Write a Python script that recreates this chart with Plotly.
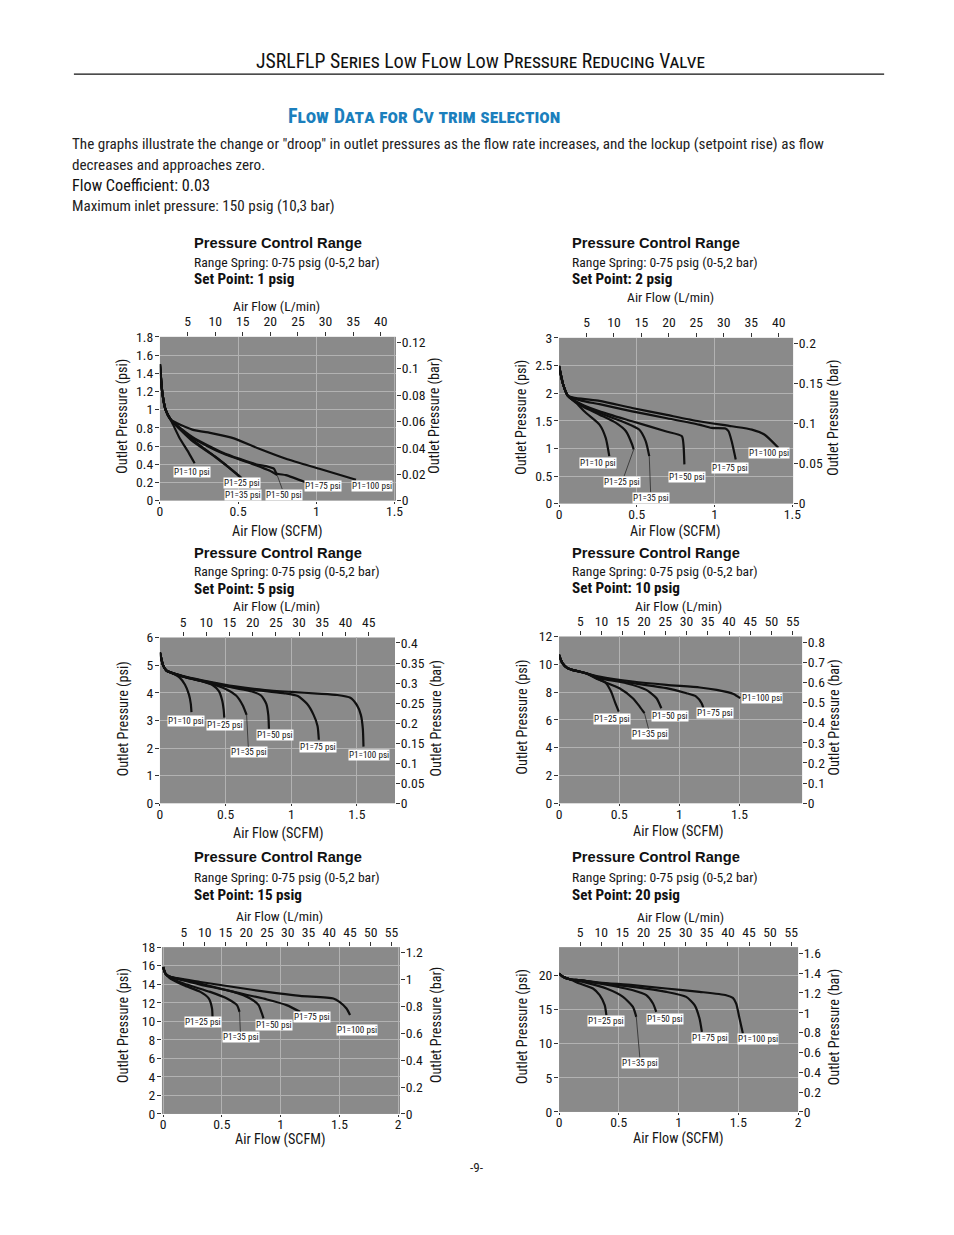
import plotly.graph_objects as go

# ---------------- data ----------------
PSI_TO_BAR = 0.0689476
SCFM_TO_LPM = 28.3168

SERIES = ["P1=10 psi", "P1=25 psi", "P1=35 psi", "P1=50 psi", "P1=75 psi", "P1=100 psi"]
SET_POINTS = ["1 psig", "2 psig", "5 psig", "10 psig", "15 psig", "20 psig"]

# Set point 1 psig : (SCFM, psi)
SP1 = {
    "P1=10 psi": ([0, 0.015, 0.036, 0.069, 0.122, 0.186, 0.222],
                  [1.5, 1.19, 1.0, 0.89, 0.70, 0.52, 0.41]),
    "P1=25 psi": ([0, 0.015, 0.036, 0.069, 0.207, 0.357, 0.485, 0.524],
                  [1.5, 1.19, 1.0, 0.89, 0.67, 0.48, 0.30, 0.24]),
    "P1=35 psi": ([0, 0.015, 0.036, 0.069, 0.2, 0.35, 0.48, 0.52],
                  [1.5, 1.19, 1.0, 0.89, 0.665, 0.485, 0.31, 0.25]),
    "P1=50 psi": ([0, 0.015, 0.036, 0.069, 0.207, 0.4, 0.613, 0.7, 0.75],
                  [1.5, 1.19, 1.0, 0.89, 0.69, 0.52, 0.39, 0.33, 0.28]),
    "P1=75 psi": ([0, 0.015, 0.036, 0.069, 0.207, 0.4, 0.613, 0.678, 0.73, 0.745, 0.806, 0.934],
                  [1.5, 1.19, 1.0, 0.89, 0.70, 0.53, 0.40, 0.38, 0.35, 0.30, 0.28, 0.20]),
    "P1=100 psi": ([0, 0.015, 0.036, 0.069, 0.207, 0.335, 0.463, 0.635, 0.806, 1.02, 1.254],
                   [1.5, 1.19, 1.0, 0.89, 0.78, 0.74, 0.69, 0.57, 0.46, 0.35, 0.23]),
}
# Set point 2 psig
SP2 = {
    "P1=10 psi": ([0, 0.026, 0.057, 0.11, 0.174, 0.26, 0.30, 0.323],
                  [2.49, 2.16, 1.95, 1.82, 1.64, 1.43, 1.19, 0.86]),
    "P1=25 psi": ([0, 0.026, 0.057, 0.15, 0.26, 0.366, 0.43, 0.47, 0.48],
                  [2.49, 2.16, 1.95, 1.76, 1.61, 1.46, 1.31, 1.07, 0.98]),
    "P1=35 psi": ([0, 0.026, 0.057, 0.15, 0.26, 0.43, 0.515, 0.557, 0.58],
                  [2.49, 2.16, 1.95, 1.78, 1.64, 1.46, 1.34, 1.13, 0.86]),
    "P1=50 psi": ([0, 0.026, 0.057, 0.15, 0.26, 0.47, 0.685, 0.79, 0.80, 0.806],
                  [2.49, 2.16, 1.95, 1.79, 1.67, 1.49, 1.31, 1.22, 1.07, 0.71]),
    "P1=75 psi": ([0, 0.026, 0.057, 0.15, 0.26, 0.47, 0.685, 0.9, 0.98, 1.07, 1.09, 1.11, 1.136],
                  [2.49, 2.16, 1.95, 1.86, 1.80, 1.67, 1.55, 1.43, 1.37, 1.36, 1.31, 1.13, 0.80]),
    "P1=100 psi": ([0, 0.026, 0.057, 0.26, 0.47, 0.685, 0.9, 1.11, 1.24, 1.32, 1.41],
                   [2.49, 2.16, 1.95, 1.86, 1.73, 1.61, 1.49, 1.40, 1.34, 1.25, 1.01]),
}
# Set point 5 psig
SP5 = {
    "P1=10 psi": ([0, 0.025, 0.05, 0.09, 0.15, 0.19, 0.22, 0.235, 0.24],
                  [5.46, 4.98, 4.8, 4.72, 4.55, 4.3, 3.95, 3.6, 3.3]),
    "P1=25 psi": ([0, 0.025, 0.05, 0.09, 0.2, 0.32, 0.4, 0.45, 0.475, 0.485, 0.49],
                  [5.46, 4.98, 4.8, 4.72, 4.56, 4.42, 4.28, 4.05, 3.7, 3.4, 3.1]),
    "P1=35 psi": ([0, 0.025, 0.05, 0.09, 0.2, 0.38, 0.5, 0.58, 0.63, 0.66],
                  [5.46, 4.98, 4.8, 4.72, 4.55, 4.34, 4.14, 3.9, 3.55, 3.2]),
    "P1=50 psi": ([0, 0.025, 0.05, 0.09, 0.2, 0.38, 0.56, 0.7, 0.77, 0.81, 0.825, 0.83],
                  [5.46, 4.98, 4.8, 4.72, 4.55, 4.36, 4.18, 4.05, 3.9, 3.6, 3.2, 2.7]),
    "P1=75 psi": ([0, 0.025, 0.05, 0.09, 0.2, 0.38, 0.56, 0.8, 0.95, 1.05, 1.12, 1.17, 1.2, 1.21],
                  [5.46, 4.98, 4.8, 4.72, 4.56, 4.38, 4.2, 4.06, 3.98, 3.88, 3.6, 3.2, 2.8, 2.3]),
    "P1=100 psi": ([0, 0.025, 0.05, 0.09, 0.2, 0.38, 0.56, 0.8, 1.0, 1.2, 1.35, 1.45, 1.5, 1.53, 1.545, 1.55],
                   [5.46, 4.98, 4.8, 4.72, 4.58, 4.4, 4.24, 4.1, 4.03, 3.97, 3.92, 3.82, 3.55, 3.2, 2.7, 2.05]),
}
# Set point 10 psig
SP10 = {
    "P1=25 psi": ([0, 0.028, 0.07, 0.11, 0.223, 0.307, 0.39, 0.432, 0.468, 0.496],
                  [10.68, 10.08, 9.72, 9.6, 9.36, 9.0, 8.64, 8.04, 7.2, 6.6]),
    "P1=35 psi": ([0, 0.028, 0.07, 0.11, 0.223, 0.335, 0.502, 0.613, 0.67, 0.71],
                  [10.68, 10.08, 9.72, 9.6, 9.36, 8.88, 8.28, 7.56, 6.96, 6.48]),
    "P1=50 psi": ([0, 0.028, 0.07, 0.11, 0.223, 0.335, 0.558, 0.725, 0.81, 0.85],
                  [10.68, 10.08, 9.72, 9.6, 9.36, 9.0, 8.64, 8.16, 7.56, 6.84]),
    "P1=75 psi": ([0, 0.028, 0.07, 0.11, 0.223, 0.335, 0.613, 0.892, 1.06, 1.14, 1.185, 1.2],
                  [10.68, 10.08, 9.72, 9.6, 9.36, 9.07, 8.64, 8.28, 7.92, 7.68, 7.2, 6.84]),
    "P1=100 psi": ([0, 0.028, 0.07, 0.11, 0.223, 0.335, 0.613, 0.892, 1.17, 1.31, 1.45, 1.505],
                   [10.68, 10.08, 9.72, 9.6, 9.36, 9.12, 8.76, 8.52, 8.33, 8.16, 7.87, 7.56]),
}
# Set point 15 psig
SP15 = {
    "P1=25 psi": ([0, 0.02, 0.048, 0.062, 0.175, 0.317, 0.388, 0.416, 0.42],
                  [15.86, 15.14, 14.78, 14.6, 13.89, 13.17, 12.46, 11.38, 10.49]),
    "P1=35 psi": ([0, 0.02, 0.048, 0.175, 0.4, 0.543, 0.628, 0.65],
                  [15.86, 15.14, 14.78, 14.07, 13.17, 12.46, 11.74, 11.02]),
    "P1=50 psi": ([0, 0.02, 0.048, 0.317, 0.6, 0.741, 0.812, 0.84, 0.854],
                  [15.86, 15.14, 14.85, 13.96, 13.17, 12.46, 11.74, 10.84, 10.31]),
    "P1=75 psi": ([0, 0.02, 0.048, 0.317, 0.6, 0.883, 1.05, 1.165],
                  [15.86, 15.14, 14.85, 14.07, 13.17, 12.35, 11.74, 11.02]),
    "P1=100 psi": ([0, 0.02, 0.048, 0.317, 0.6, 0.883, 1.165, 1.448, 1.5, 1.56, 1.59],
                   [15.86, 15.14, 14.85, 14.24, 13.7, 13.17, 12.74, 12.46, 12.1, 11.38, 10.67]),
}
# Set point 20 psig
SP20 = {
    "P1=25 psi": ([0, 0.033, 0.089, 0.173, 0.284, 0.34, 0.382, 0.396],
                  [20.24, 19.76, 19.41, 18.78, 18.05, 17.07, 15.61, 14.15]),
    "P1=35 psi": ([0, 0.033, 0.089, 0.2, 0.396, 0.535, 0.618, 0.646],
                  [20.24, 19.76, 19.41, 19.02, 18.05, 16.83, 15.37, 13.9]),
    "P1=50 psi": ([0, 0.033, 0.089, 0.173, 0.34, 0.618, 0.73, 0.786, 0.813],
                  [20.24, 19.76, 19.41, 19.27, 18.78, 17.8, 17.07, 15.85, 14.63]),
    "P1=75 psi": ([0, 0.033, 0.089, 0.173, 0.34, 0.618, 0.897, 1.064, 1.134, 1.175, 1.195],
                  [20.24, 19.76, 19.41, 19.27, 18.83, 18.29, 17.56, 16.83, 15.61, 13.66, 11.71]),
    "P1=100 psi": ([0, 0.033, 0.089, 0.173, 0.34, 0.618, 0.897, 1.175, 1.398, 1.454, 1.482, 1.51, 1.538],
                   [20.24, 19.76, 19.41, 19.27, 18.93, 18.54, 18.05, 17.56, 17.07, 16.68, 15.85, 13.66, 11.46]),
}
CURVES = [SP1, SP2, SP5, SP10, SP15, SP20]

# tick labels
PSI_TICKS = [
    [0, 0.2, 0.4, 0.6, 0.8, 1, 1.2, 1.4, 1.6, 1.8],
    [0, 0.5, 1, 1.5, 2, 2.5, 3],
    [0, 1, 2, 3, 4, 5, 6],
    [0, 2, 4, 6, 8, 10, 12],
    [0, 2, 4, 6, 8, 10, 12, 14, 16, 18],
    [0, 5, 10, 15, 20],
]
BAR_TICKS = [
    [0, 0.02, 0.04, 0.06, 0.08, 0.1, 0.12],
    [0, 0.05, 0.1, 0.15, 0.2],
    [0, 0.05, 0.1, 0.15, 0.2, 0.25, 0.3, 0.35, 0.4],
    [0, 0.1, 0.2, 0.3, 0.4, 0.5, 0.6, 0.7, 0.8],
    [0, 0.2, 0.4, 0.6, 0.8, 1, 1.2],
    [0, 0.2, 0.4, 0.6, 0.8, 1, 1.2, 1.4, 1.6],
]
SCFM_TICKS = [[0, 0.5, 1, 1.5]] * 4 + [[0, 0.5, 1, 1.5, 2]] * 2
LPM_TICKS = [[5, 10, 15, 20, 25, 30, 35, 40]] * 2 + [[5, 10, 15, 20, 25, 30, 35, 40, 45]] + \
            [[5, 10, 15, 20, 25, 30, 35, 40, 45, 50, 55]] * 3

# ---------------- layout / positions (px on the 954 x 1235 page) ----------------
PAGE_W, PAGE_H = 954, 1235
BODY_MARGIN = 8                      # default browser body margin around the figure
W, H = PAGE_W - 2 * BODY_MARGIN, PAGE_H - 2 * BODY_MARGIN
# measured mapping of page position -> photographed position (compensated below)
SHOT_SCALE, SHOT_DX, SHOT_DY = 0.988, 3.2, 6.9
FS = 1 / SHOT_SCALE

GEOM = [
    dict(x0=160, x1=396, y0=336, y1=500, xmin=0, xmax=1.51, ymax=1.8),
    dict(x0=559, x1=793, y0=337, y1=503, xmin=0, xmax=1.505, ymax=3.0),
    dict(x0=160, x1=395, y0=637, y1=803, xmin=0, xmax=1.79, ymax=6.0),
    dict(x0=559, x1=802, y0=636, y1=803, xmin=0, xmax=2.02, ymax=12.0),
    dict(x0=162, x1=400, y0=947, y1=1114, xmin=-0.01, xmax=2.015, ymax=18.0),
    dict(x0=559, x1=798, y0=947, y1=1112, xmin=0, xmax=2.0, ymax=24.1),
]
TEXTPOS = [
    dict(tx=192.5, ty=(242, 261, 278), lpm=(277, 305), scfm=(277, 531), lt=(123, 415), rt=(435, 415)),
    dict(tx=569.5, ty=(242, 261, 278), lpm=(670, 296), scfm=(675, 531), lt=(522, 417), rt=(834, 417)),
    dict(tx=192.5, ty=(552, 570.5, 588), lpm=(277, 605), scfm=(278, 833), lt=(123, 718), rt=(436, 718)),
    dict(tx=569.5, ty=(552, 570.5, 587.5), lpm=(678, 605), scfm=(678, 831), lt=(522, 717), rt=(834, 717)),
    dict(tx=192.5, ty=(857, 877, 895), lpm=(280, 916), scfm=(280, 1140), lt=(123, 1025), rt=(436, 1025)),
    dict(tx=569.5, ty=(857, 877, 895), lpm=(680, 917), scfm=(678, 1139), lt=(522, 1027), rt=(834, 1027)),
]
# label box positions (data coords of each panel) and whether a leader line is drawn
LABEL_POS = [
    {"P1=10 psi": (0.207, 0.32, False), "P1=25 psi": (0.528, 0.19, False), "P1=35 psi": (0.532, 0.067, False),
     "P1=50 psi": (0.795, 0.067, True), "P1=75 psi": (1.04, 0.156, False), "P1=100 psi": (1.355, 0.156, False)},
    {"P1=10 psi": (0.249, 0.73, False), "P1=25 psi": (0.406, 0.40, True), "P1=35 psi": (0.59, 0.11, True),
     "P1=50 psi": (0.82, 0.48, False), "P1=75 psi": (1.10, 0.65, False), "P1=100 psi": (1.35, 0.91, False)},
    {"P1=10 psi": (0.198, 2.97, False), "P1=25 psi": (0.495, 2.82, False), "P1=35 psi": (0.675, 1.84, True),
     "P1=50 psi": (0.88, 2.46, False), "P1=75 psi": (1.206, 2.04, False), "P1=100 psi": (1.594, 1.74, False)},
    {"P1=25 psi": (0.438, 6.07, False), "P1=35 psi": (0.755, 4.97, True), "P1=50 psi": (0.92, 6.31, False),
     "P1=75 psi": (1.30, 6.48, False), "P1=100 psi": (1.69, 7.56, False)},
    {"P1=25 psi": (0.337, 9.95, False), "P1=35 psi": (0.659, 8.27, True), "P1=50 psi": (0.942, 9.59, False),
     "P1=75 psi": (1.27, 10.49, False), "P1=100 psi": (1.65, 9.06, False)},
    {"P1=25 psi": (0.396, 13.27, False), "P1=35 psi": (0.68, 7.17, True), "P1=50 psi": (0.883, 13.56, False),
     "P1=75 psi": (1.262, 10.88, False), "P1=100 psi": (1.668, 10.63, False)},
]

NARROW = "Roboto Condensed, Roboto, Liberation Sans, sans-serif"
SANS = "Liberation Sans, Arial, Helvetica, sans-serif"
TXT = "#151515"
PLOT_BG = "#8a8a8a"
GRID = "#b2b2b2"


def px(x):
    p = (x - SHOT_DX) / SHOT_SCALE
    return (p - BODY_MARGIN) / W


def py(y):
    p = (y - SHOT_DY) / SHOT_SCALE
    return 1 - (p - BODY_MARGIN) / H


def fs(s):
    return round(s * FS, 2)


def ref(p, n):
    return p if n == 1 else f"{p}{n}"


def key(p, n):
    return f"{p}axis" if n == 1 else f"{p}axis{n}"


def fmt(v):
    return f"{v:g}"


fig = go.Figure()
layout = dict(
    width=W, height=H, autosize=False,
    margin=dict(l=0, r=0, t=0, b=0),
    paper_bgcolor="white", plot_bgcolor=PLOT_BG,
    showlegend=False,
    font=dict(family=NARROW, size=fs(13.5), color=TXT),
)
annotations = []
shapes = []

tickfont = dict(family=NARROW, size=fs(13.5), color=TXT)

for i in range(6):
    g = GEOM[i]
    t = TEXTPOS[i]
    bx, tx_, ly, ry = 2 * i + 1, 2 * i + 2, 2 * i + 1, 2 * i + 2
    xd = [px(g["x0"]), px(g["x1"])]
    yd = [py(g["y1"]), py(g["y0"])]
    common = dict(ticks="outside", tickwidth=1, tickcolor="#333",
                  tickfont=tickfont, showline=False, zeroline=False, fixedrange=True)
    layout[key("x", bx)] = dict(domain=xd, anchor=ref("y", ly), range=[g["xmin"], g["xmax"]],
                                tickmode="array", tickvals=SCFM_TICKS[i],
                                ticktext=[fmt(v) for v in SCFM_TICKS[i]],
                                ticklen=2, ticklabelstandoff=-4,
                                showgrid=True, gridcolor=GRID, gridwidth=1, **common)
    layout[key("x", tx_)] = dict(domain=xd, anchor=ref("y", ly), overlaying=ref("x", bx), side="top",
                                 range=[g["xmin"] * SCFM_TO_LPM, g["xmax"] * SCFM_TO_LPM],
                                 tickmode="array", tickvals=LPM_TICKS[i],
                                 ticktext=[fmt(v) for v in LPM_TICKS[i]],
                                 ticklen=4, showgrid=False, **common)
    layout[key("y", ly)] = dict(domain=yd, anchor=ref("x", bx), range=[0, g["ymax"]],
                                tickmode="array", tickvals=PSI_TICKS[i],
                                ticktext=[fmt(v) for v in PSI_TICKS[i]],
                                ticklen=4, ticklabelstandoff=-1,
                                showgrid=True, gridcolor=GRID, gridwidth=1, **common)
    layout[key("y", ry)] = dict(domain=yd, anchor=ref("x", bx), overlaying=ref("y", ly), side="right",
                                range=[0, g["ymax"] * PSI_TO_BAR],
                                tickmode="array", tickvals=BAR_TICKS[i],
                                ticktext=[fmt(v) for v in BAR_TICKS[i]],
                                ticklen=4, ticklabelstandoff=-2,
                                showgrid=False, **common)

    curves = CURVES[i]
    for name in SERIES:
        if name not in curves:
            continue
        xs, ys = curves[name]
        fig.add_trace(go.Scatter(
            x=xs, y=ys, mode="lines", name=name,
            xaxis=ref("x", bx), yaxis=ref("y", ly),
            line=dict(color="#101010", width=2.2, shape="spline", smoothing=0.6),
            showlegend=False,
        ))
        lx, lyv, leader = LABEL_POS[i][name]
        annotations.append(dict(
            x=xs[-1], y=ys[-1], xref=ref("x", bx), yref=ref("y", ly),
            ax=lx, ay=lyv, axref=ref("x", bx), ayref=ref("y", ly),
            text=name, showarrow=True, arrowhead=0,
            arrowwidth=0.8 if leader else 0.1,
            arrowcolor="#2a2a2a" if leader else "rgba(0,0,0,0)",
            bgcolor="white", borderpad=0,
            font=dict(family=NARROW, size=fs(9), color="#111"),
        ))

    # the same highest-pressure curve expressed in the secondary units (L/min, bar),
    # drawn invisibly so the top and right axes are rendered
    last = [n for n in SERIES if n in curves][-1]
    xs, ys = curves[last]
    fig.add_trace(go.Scatter(
        x=[v * SCFM_TO_LPM for v in xs], y=ys, mode="lines", opacity=0,
        xaxis=ref("x", tx_), yaxis=ref("y", ly), hoverinfo="skip", showlegend=False,
        line=dict(width=0.5, color="rgba(0,0,0,0)"),
    ))
    fig.add_trace(go.Scatter(
        x=xs, y=[v * PSI_TO_BAR for v in ys], mode="lines", opacity=0,
        xaxis=ref("x", bx), yaxis=ref("y", ry), hoverinfo="skip", showlegend=False,
        line=dict(width=0.5, color="rgba(0,0,0,0)"),
    ))

    # titles of the panel
    annotations += [
        dict(x=px(t["tx"]), y=py(t["ty"][0]), xref="paper", yref="paper", xanchor="left", yanchor="middle",
             text="<b>Pressure Control Range</b>", showarrow=False,
             font=dict(family=SANS, size=fs(14.5), color="#111")),
        dict(x=px(t["tx"]), y=py(t["ty"][1]), xref="paper", yref="paper", xanchor="left", yanchor="middle",
             text="Range Spring: 0-75 psig (0-5,2 bar)", showarrow=False,
             font=dict(family=NARROW, size=fs(13.5), color=TXT)),
        dict(x=px(t["tx"]), y=py(t["ty"][2]), xref="paper", yref="paper", xanchor="left", yanchor="middle",
             text=f"<b>Set Point: {SET_POINTS[i]}</b>", showarrow=False,
             font=dict(family=NARROW, size=fs(15), color="#111")),
        dict(x=px(t["lpm"][0]), y=py(t["lpm"][1]), xref="paper", yref="paper", xanchor="center",
             yanchor="middle", text="Air Flow (L/min)", showarrow=False,
             font=dict(family=NARROW, size=fs(13.5), color=TXT)),
        dict(x=px(t["scfm"][0]), y=py(t["scfm"][1]), xref="paper", yref="paper", xanchor="center",
             yanchor="middle", text="Air Flow (SCFM)", showarrow=False,
             font=dict(family=NARROW, size=fs(14), color=TXT)),
        dict(x=px(t["lt"][0]), y=py(t["lt"][1]), xref="paper", yref="paper", xanchor="center",
             yanchor="middle", text="Outlet Pressure (psi)", textangle=-90, showarrow=False,
             font=dict(family=NARROW, size=fs(14), color=TXT)),
        dict(x=px(t["rt"][0]), y=py(t["rt"][1]), xref="paper", yref="paper", xanchor="center",
             yanchor="middle", text="Outlet Pressure (bar)", textangle=-90, showarrow=False,
             font=dict(family=NARROW, size=fs(14), color=TXT)),
    ]

# page header and intro text
annotations += [
    dict(x=px(480), y=py(60), xref="paper", yref="paper", xanchor="center", yanchor="middle",
         text="JSRLFLP Series Low Flow Low Pressure Reducing Valve", showarrow=False,
         font=dict(family=NARROW, size=fs(19.5), color="#111", variant="small-caps")),
    dict(x=px(424), y=py(115), xref="paper", yref="paper", xanchor="center", yanchor="middle",
         text="<b>Flow Data for Cv trim selection</b>", showarrow=False,
         font=dict(family=NARROW, size=fs(19.8), color="#1b7fbd", variant="small-caps")),
    dict(x=px(70), y=py(143), xref="paper", yref="paper", xanchor="left", yanchor="middle",
         text="The graphs illustrate the change or \"droop\" in outlet pressures as the flow rate increases, "
              "and the lockup (setpoint rise) as flow", showarrow=False,
         font=dict(family=NARROW, size=fs(14.95), color="#222")),
    dict(x=px(70), y=py(164), xref="paper", yref="paper", xanchor="left", yanchor="middle",
         text="decreases and approaches zero.", showarrow=False,
         font=dict(family=NARROW, size=fs(14.95), color="#222")),
    dict(x=px(70), y=py(184), xref="paper", yref="paper", xanchor="left", yanchor="middle",
         text="Flow Coefficient: 0.03", showarrow=False,
         font=dict(family=NARROW, size=fs(16), color="#111")),
    dict(x=px(70), y=py(205), xref="paper", yref="paper", xanchor="left", yanchor="middle",
         text="Maximum inlet pressure: 150 psig (10,3 bar)", showarrow=False,
         font=dict(family=NARROW, size=fs(14.95), color="#222")),
    dict(x=px(476), y=py(1168), xref="paper", yref="paper", xanchor="center", yanchor="middle",
         text="-9-", showarrow=False, font=dict(family=NARROW, size=fs(13), color="#222")),
]
shapes.append(dict(type="line", xref="paper", yref="paper", x0=px(74), x1=px(884), y0=py(73), y1=py(73),
                   line=dict(color="#111", width=1.2)))

layout["annotations"] = annotations
layout["shapes"] = shapes
fig.update_layout(**layout)

fig.write_html("out.html", include_plotlyjs=True, config={"displayModeBar": False})
